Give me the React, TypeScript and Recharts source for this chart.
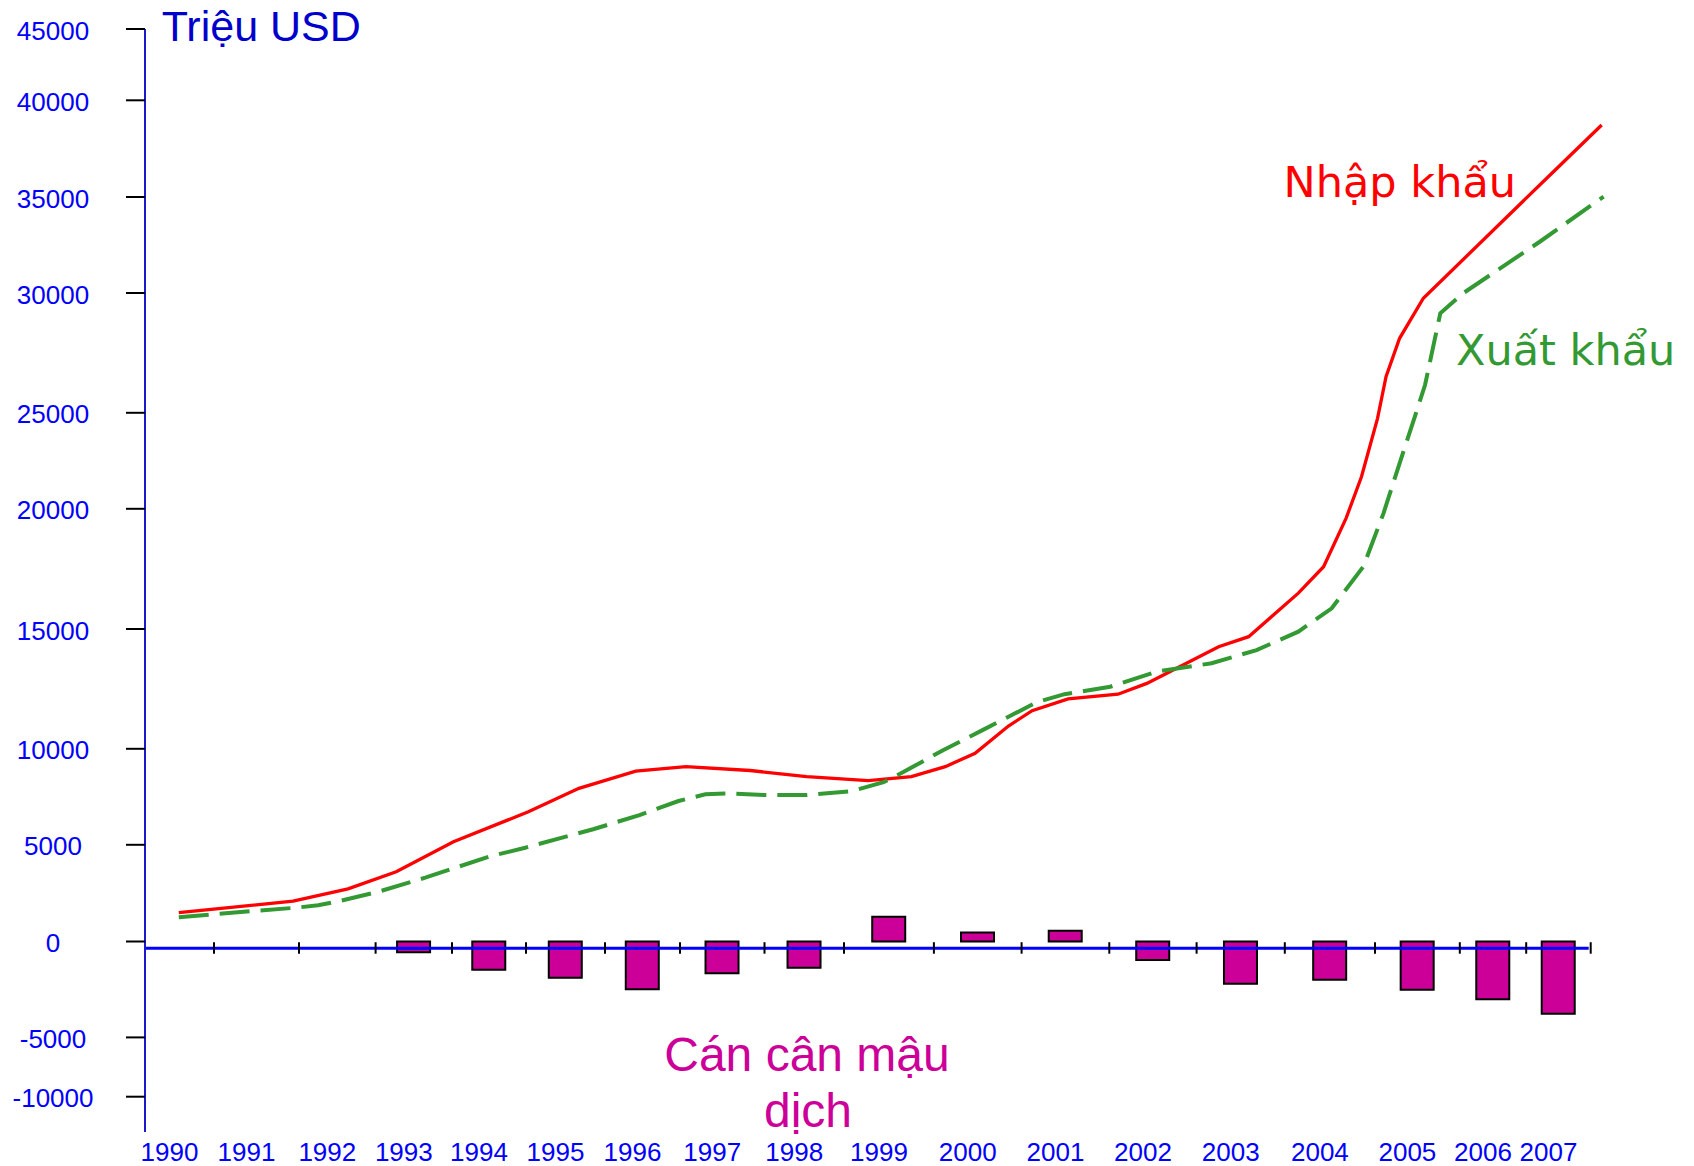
import React from 'react';
import { ComposedChart, Line, Bar, XAxis, YAxis, ReferenceLine } from 'recharts';

// ---------------- data ----------------
const YEARS = [1990, 1991, 1992, 1993, 1994, 1995, 1996, 1997, 1998, 1999, 2000, 2001, 2002, 2003, 2004, 2005, 2006, 2007];

// trade balance (million USD), no bar drawn for 1990-1992
const BALANCE: (number | null)[] = [null, null, null, -560, -1470, -1890, -2490, -1660, -1370, 1280, 460, 560, -970, -2200, -1990, -2510, -3010, -3770];

// imports: hand-drawn polyline (time in fractional years, value in million USD)
const IMPORT_YEAR = [1989.99, 1991.43, 1992.14, 1992.77, 1993.52, 1994.53, 1995.17, 1995.91, 1996.57, 1997.33, 1998.03, 1998.77, 1999.25, 1999.63, 1999.97, 2000.35, 2000.62, 2001.03, 2001.6, 2001.93, 2002.75, 2003.09, 2003.65, 2003.93, 2004.18, 2004.35, 2004.53, 2004.63, 2004.79, 2005.07, 2006.87, 2007.67];
const IMPORT_VALUE = [1490, 2090, 2720, 3610, 5160, 6720, 7940, 8840, 9070, 8870, 8550, 8340, 8550, 9070, 9770, 10950, 11590, 12080, 12280, 12730, 14260, 14680, 16490, 17590, 19610, 21670, 24710, 26510, 28110, 29780, 36140, 38720];

// exports
const EXPORT_YEAR = [1989.99, 1990.97, 1991.47, 1991.75, 1992.05, 1992.54, 1993.15, 1994.0, 1994.49, 1995.35, 1995.96, 1996.48, 1996.8, 1997.09, 1997.51, 1998.03, 1998.59, 1998.94, 1999.16, 1999.61, 2000.06, 2000.67, 2000.99, 2001.51, 2002.04, 2002.67, 2003.18, 2003.65, 2004.02, 2004.37, 2004.6, 2004.79, 2004.97, 2005.09, 2005.27, 2005.55, 2006.71, 2007.7];
const EXPORT_VALUE = [1250, 1580, 1750, 1870, 2110, 2580, 3300, 4390, 4850, 5810, 6550, 7280, 7630, 7680, 7590, 7590, 7800, 8260, 8790, 9940, 10790, 11940, 12280, 12590, 13220, 13570, 14120, 14890, 15860, 17590, 19810, 22370, 24800, 26160, 29150, 29990, 32670, 35020];

const Y_TICKS = [-10000, -5000, 0, 5000, 10000, 15000, 20000, 25000, 30000, 35000, 40000, 45000];

// ---------------- the hand-drawn, non-uniform axis scales ----------------
// value -> axis units (tick spacing of the original is irregular)
const Y_STOPS = [-155.2, -95.9, 0, 96.7, 192.7, 312.5, 432.7, 528.7, 648.5, 744.5, 841.2, 912.5];
const Y_MIN = -190.5;
const Y_MAX = 912.5;
// year band edges -> axis units
const X_EDGE_YEARS = Array.from({ length: 19 }, (_, i) => 1989.5 + i);
const X_EDGE_STOPS = [0, 69, 154, 230.6, 307, 381, 460, 535, 619.5, 699, 788.9, 876.6, 964.3, 1051.6, 1139.8, 1230, 1314.8, 1381.2, 1445.7];
const X_MIN = 0;
const X_MAX = 1465;

function interp(xs: number[], ys: number[], v: number): number {
  const n = xs.length;
  let i = 0;
  if (v <= xs[0]) i = 0;
  else if (v >= xs[n - 1]) i = n - 2;
  else {
    while (i < n - 2 && v >= xs[i + 1]) i++;
  }
  return ys[i] + ((v - xs[i]) * (ys[i + 1] - ys[i])) / (xs[i + 1] - xs[i]);
}
const vx = (year: number) => interp(X_EDGE_YEARS, X_EDGE_STOPS, year);
const vy = (value: number) => interp(Y_TICKS, Y_STOPS, value);

const barData = YEARS.map((yr, i) => ({ x: vx(yr), v: BALANCE[i] == null ? null : vy(BALANCE[i] as number) }));
const importData = IMPORT_YEAR.map((yr, i) => ({ x: vx(yr), v: vy(IMPORT_VALUE[i]) }));
const exportData = EXPORT_YEAR.map((yr, i) => ({ x: vx(yr), v: vy(EXPORT_VALUE[i]) }));

const Y_TICK_POS = Y_TICKS.map(vy);
const X_TICK_POS = YEARS.map(vx);
const AXIS_LINE_Y = vy(-350);
const BAND_MARKS = X_EDGE_YEARS.slice(1);

const TICK_FONT = '"Liberation Sans", Arial, sans-serif';
const TICK_BLUE = '#0000FF';

const YTick = (props: any) => {
  const { x, y, payload } = props;
  const idx = Y_TICK_POS.findIndex((p) => Math.abs(p - payload.value) < 1e-6);
  if (idx < 0) return null;
  return (
    <text x={x - 73} y={y + 10.5} textAnchor="middle" fontFamily={TICK_FONT} fontSize={26} fill={TICK_BLUE}>
      {String(Y_TICKS[idx])}
    </text>
  );
};

const XTick = (props: any) => {
  const { x, y, payload } = props;
  const idx = X_TICK_POS.findIndex((p) => Math.abs(p - payload.value) < 1e-6);
  if (idx < 0) return null;
  return (
    <text x={x - 10} y={y + 28.7} textAnchor="middle" fontFamily={TICK_FONT} fontSize={26} fill={TICK_BLUE}>
      {String(YEARS[idx])}
    </text>
  );
};

export default function App() {
  return (
    <div style={{ position: 'absolute', left: 0, top: 0, width: 1694, height: 1166, background: '#fff' }}>
      <ComposedChart width={1694} height={1166} data={barData} margin={{ top: 29, right: 84, bottom: 0, left: 0 }}>
        <XAxis
          type="number"
          dataKey="x"
          domain={[X_MIN, X_MAX]}
          ticks={X_TICK_POS}
          interval={0}
          axisLine={false}
          tickLine={false}
          tickSize={0}
          tickMargin={0}
          height={34}
          tick={<XTick />}
        />
        <XAxis xAxisId="bars" type="number" dataKey="x" domain={[X_MIN, X_MAX]} hide />
        <YAxis
          type="number"
          domain={[Y_MIN, Y_MAX]}
          ticks={Y_TICK_POS}
          interval={0}
          width={145}
          tickSize={19}
          tickMargin={0}
          axisLine={{ stroke: '#1a1acc', strokeWidth: 2 }}
          tickLine={{ stroke: '#000', strokeWidth: 2 }}
          tick={<YTick />}
        />
        <ReferenceLine
          segment={[{ x: vx(1989.5), y: AXIS_LINE_Y }, { x: vx(2007.5) - 2, y: AXIS_LINE_Y }]}
          stroke="#0000FF"
          strokeWidth={3}
          ifOverflow="visible"
        />
        {BAND_MARKS.map((e) => (
          <ReferenceLine
            key={e}
            segment={[{ x: vx(e), y: AXIS_LINE_Y + 6 }, { x: vx(e), y: AXIS_LINE_Y - 5.5 }]}
            stroke="#000"
            strokeWidth={2}
            ifOverflow="visible"
          />
        ))}
        <Bar xAxisId="bars" dataKey="v" barSize={33} fill="#CC0099" stroke="#000" strokeWidth={2} isAnimationActive={false} />
        <Line data={importData} dataKey="v" type="linear" stroke="#FF0000" strokeWidth={3.3} dot={false} isAnimationActive={false} />
        <Line data={exportData} dataKey="v" type="linear" stroke="#339933" strokeWidth={4} strokeDasharray="30 11" dot={false} isAnimationActive={false} />
      </ComposedChart>
      <svg width={1694} height={1166} style={{ position: 'absolute', left: 0, top: 0, pointerEvents: 'none' }}>
        <text x={161.7} y={40.7} fontFamily={TICK_FONT} fontSize={43} fill="#0000CC">Triệu USD</text>
        <text x={1283.5} y={196.7} fontFamily='"DejaVu Sans", sans-serif' fontSize={43} fill="#FF0000">Nhập khẩu</text>
        <text x={1456} y={365} fontFamily='"DejaVu Sans", sans-serif' fontSize={43} fill="#339933">Xuất khẩu</text>
        <text x={807} y={1071} textAnchor="middle" fontFamily={TICK_FONT} fontSize={48} fill="#CC0099">Cán cân mậu</text>
        <text x={808} y={1127.3} textAnchor="middle" fontFamily={TICK_FONT} fontSize={48} fill="#CC0099">dịch</text>
      </svg>
    </div>
  );
}
